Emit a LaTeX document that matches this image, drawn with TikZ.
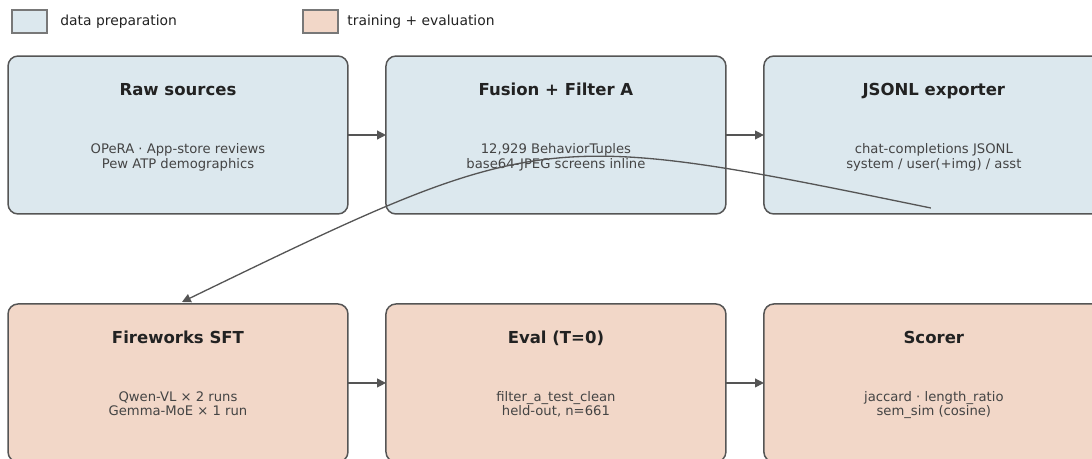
\documentclass[tikz,border=0pt]{standalone}
\usepackage{fontspec}
\setmainfont{DejaVu Sans}
\usetikzlibrary{arrows.meta}
\usetikzlibrary{positioning}
\definecolor{prepblue}{RGB}{220, 232, 238}
\definecolor{trainpeach}{RGB}{242, 215, 200}
\definecolor{edgegray}{RGB}{85, 85, 85}
\definecolor{keygray}{RGB}{120, 120, 120}
\definecolor{titlegray}{RGB}{34, 34, 34}
\definecolor{bodygray}{RGB}{68, 68, 68}
\tikzset{box/.style = {draw = edgegray, line width = 0.85pt, rounded corners = 0.2cm,
                       minimum width = 6.8cm, minimum height = 3.16cm, inner sep = 0, outer sep = 0}}
\tikzset{prep/.style = {box, fill = prepblue}}
\tikzset{train/.style = {box, fill = trainpeach}}
\tikzset{title/.style = {font = \fontsize{9.4}{11}\selectfont\bfseries, text = titlegray, anchor = base}}
\tikzset{body/.style = {font = \fontsize{7.5}{8.1}\selectfont, text = bodygray, align = center, anchor = base}}
\tikzset{flow/.style = {draw = edgegray, line width = 0.75pt, -{Triangle[length = 5pt, width = 5pt]}}}
\tikzset{key/.style = {draw = keygray, line width = 0.6pt, minimum width = 0.7cm,
                       minimum height = 0.46cm, inner sep = 0}}
\tikzset{keytext/.style = {font = \fontsize{7.9}{9}\selectfont, text = titlegray, anchor = west, inner sep = 0}}

\begin{document}
\begin{tikzpicture}[x = 0.02cm, y = -0.02cm]
    \useasboundingbox (0, 0) rectangle (1092, 458);

    % legend
    \node [key, fill = prepblue] (prepkey) at (29.5, 21.5) {};
    \node [keytext] (preplabel) at (60, 21.5) {data preparation};
    \node [key, fill = trainpeach] (trainkey) at (320.5, 21.5) {};
    \node [keytext] (trainlabel) at (347, 21.5) {training + evaluation};

    % boxes
    \node [prep] (raw) at (178, 135) {};
    \node [prep, right = 0.76cm of raw] (fusion) {};
    \node [prep, right = 0.76cm of fusion] (jsonl) {};
    \node [train, below = 1.8cm of raw] (sft) {};
    \node [train, right = 0.76cm of sft] (eval) {};
    \node [train, right = 0.76cm of eval] (scorer) {};

    \node [title] at ([yshift = -0.79cm] raw.north) {Raw sources};
    \node [body] at ([yshift = -2.24cm] raw.north) {OPeRA · App-store reviews\\Pew ATP demographics};
    \node [title] at ([yshift = -0.79cm] fusion.north) {Fusion + Filter A};
    \node [body] at ([yshift = -2.24cm] fusion.north) {12,929 BehaviorTuples\\base64-JPEG screens inline};
    \node [title] at ([yshift = -0.79cm] jsonl.north) {JSONL exporter};
    \node [body] at ([yshift = -2.24cm] jsonl.north) {chat-completions JSONL\\system / user(+img) / asst};

    \node [title] at ([yshift = -0.79cm] sft.north) {Fireworks SFT};
    \node [body] at ([yshift = -2.24cm] sft.north) {Qwen-VL × 2 runs\\Gemma-MoE × 1 run};
    \node [title] at ([yshift = -0.79cm] eval.north) {Eval (T=0)};
    \node [body] at ([yshift = -2.24cm] eval.north) {filter\_a\_test\_clean\\held-out, n=661};
    \node [title] at ([yshift = -0.79cm] scorer.north) {Scorer};
    \node [body] at ([yshift = -2.24cm] scorer.north) {jaccard · length\_ratio\\sem\_sim (cosine)};

    % arrows
    \draw [flow] (raw) -- (fusion);
    \draw [flow] (fusion) -- (jsonl);
    \draw [flow] (sft) -- (eval);
    \draw [flow] (eval) -- (scorer);

    \coordinate (tail) at ([xshift = -0.06cm, yshift = 0.12cm] jsonl.south);
    \coordinate (bend) at (541, 128);
    \draw [flow] (tail) .. controls (bend) .. ([xshift = 0.08cm, yshift = 0.04cm] sft.north);
\end{tikzpicture}
\end{document}
